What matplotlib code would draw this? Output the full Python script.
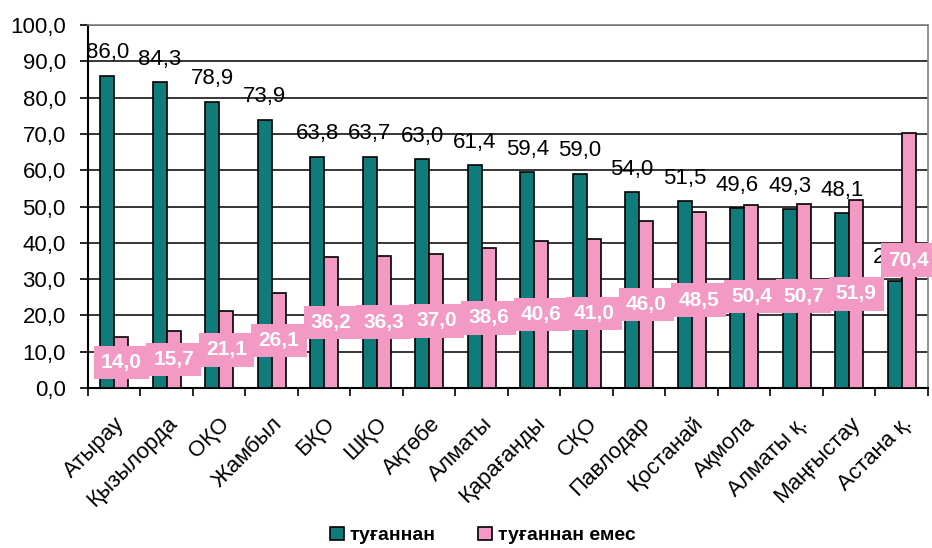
import matplotlib
matplotlib.use('Agg')
import matplotlib.pyplot as plt
import numpy as np

# regions and shares (%)
regions = ['Атырау', 'Қызылорда', 'ОҚО', 'Жамбыл', 'БҚО', 'ШҚО', 'Ақтөбе', 'Алматы',
           'Қарағанды', 'СҚО', 'Павлодар', 'Қостанай', 'Ақмола', 'Алматы қ.',
           'Маңғыстау', 'Астана қ.']
native = [86.0, 84.3, 78.9, 73.9, 63.8, 63.7, 63.0, 61.4, 59.4, 59.0, 54.0, 51.5,
          49.6, 49.3, 48.1, 29.6]
not_native = [14.0, 15.7, 21.1, 26.1, 36.2, 36.3, 37.0, 38.6, 40.6, 41.0, 46.0, 48.5,
              50.4, 50.7, 51.9, 70.4]
series_names = ['туғаннан', 'туғаннан емес']

teal = '#0f7b7a'
pink = '#f29ac4'

plt.rcParams['font.family'] = ['Liberation Sans', 'DejaVu Sans']


def fmt(v):
    return f'{v:.1f}'.replace('.', ',')


fig = plt.figure(figsize=(9.32, 5.48), dpi=100)
ax = fig.add_axes([0.0944, 0.292, 0.9013, 0.662])

x = np.arange(len(regions))
w = 0.27
b1 = ax.bar(x - w / 2, native, w, color=teal, edgecolor='black', linewidth=1.2,
            label=series_names[0], zorder=3)
b2 = ax.bar(x + w / 2, not_native, w, color=pink, edgecolor='black', linewidth=1.2,
            label=series_names[1], zorder=3)

# labels of the first series, above the bars
for xi, v in zip(x, native):
    ax.annotate(fmt(v), (xi - w / 2, v), xytext=(0, 9), textcoords='offset points',
                ha='center', va='bottom', fontsize=16, color='black', zorder=4)

# labels of the second series, in the middle of the bars, on pink boxes
for xi, v in zip(x, not_native):
    ax.text(xi + w / 2, v / 2, fmt(v), ha='center', va='center', fontsize=15,
            fontweight='bold', color='white', zorder=5,
            bbox=dict(boxstyle='square,pad=0.35', facecolor=pink, edgecolor='none'))

ax.set_ylim(0, 100)
ax.set_xlim(-0.5, len(regions) - 0.5)
ax.set_yticks(np.arange(0, 101, 10))
ax.set_yticklabels([fmt(t) for t in np.arange(0, 101, 10)], fontsize=16)
ax.yaxis.grid(True, color='black', linewidth=1.1, zorder=0)
ax.set_axisbelow(True)

ax.set_xticks(x)
ax.set_xticklabels(regions, rotation=45, ha='right', rotation_mode='anchor', fontsize=16)
ax.tick_params(axis='x', which='major', length=0, pad=18)
ax.set_xticks(np.arange(-0.5, len(regions), 1), minor=True)
ax.tick_params(axis='x', which='minor', length=6, width=1.2, direction='out')
ax.tick_params(axis='y', length=6, width=1.2, direction='out', pad=10)

for s in ['left', 'bottom']:
    ax.spines[s].set_linewidth(1.5)
for s in ['top', 'right']:
    ax.spines[s].set_color('#808080')
    ax.spines[s].set_linewidth(1.2)

fig.legend(handles=[b1, b2], loc='lower center', bbox_to_anchor=(0.518, -0.025), ncol=2,
           frameon=False, prop={'weight': 'bold', 'size': 14}, handlelength=0.7,
           handleheight=0.7, handletextpad=0.3, columnspacing=2.2)

fig.savefig('out.png', dpi=100)
